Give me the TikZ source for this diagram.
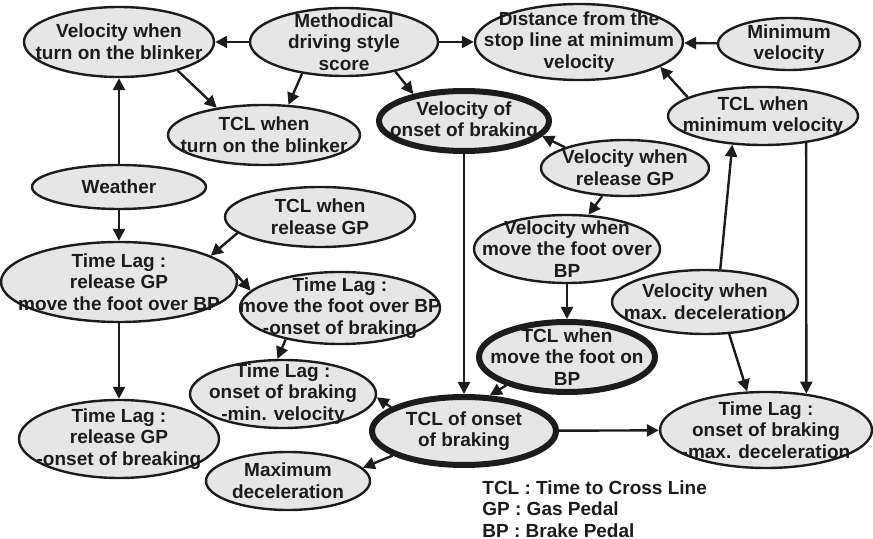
\documentclass[tikz,border=0pt]{standalone}
\usepackage{fontspec}
\setmainfont{Liberation Sans}
\usetikzlibrary{arrows.meta,shapes.geometric}
\definecolor{ink}{HTML}{1C1C1C}
\definecolor{shade}{HTML}{E6E6E6}
\tikzset{bub/.style={ellipse,draw=ink,fill=shade,line width=1.2pt,inner sep=0pt},
  heavy/.style={bub,line width=3pt},
  sz/.style 2 args={minimum width=#1*0.5pt,minimum height=#2*0.5pt},
  txt/.style={text=ink,font=\bfseries\fontsize{9.5}{10.8}\selectfont,align=center,inner sep=0pt},
  say/.style={label={[txt]center:#1}},
  link/.style={draw=ink,line width=1.2pt,-{Triangle[length=6pt,width=6pt]}}}

\begin{document}
\begin{tikzpicture}[x=0.5pt,y=-0.5pt]
\useasboundingbox (0,0) rectangle (873,539);
% top row
\node[bub,sz={190}{70},say={Velocity when\\turn on the blinker}] (vblink) at (119,42) {};
\node[bub,sz={188}{68},say={Methodical\\driving style\\score}] (score) at (344,42) {};
\node[bub,sz={208}{76},say={Distance from the\\stop line at minimum\\velocity}] (dist) at (579,42) {};
\node[bub,sz={142}{52},say={Minimum\\velocity}] (vmin) at (789,44) {};
\node[bub,sz={192}{60},say={TCL when\\turn on the blinker}] (tclblink) at (264,135) {};
\node[heavy,sz={170}{60},say={Velocity of\\onset of braking}] (vonset) at (464,121) {};
\node[bub,sz={190}{58},say={TCL when\\minimum velocity}] (tclmin) at (763,116) {};
\node[bub,sz={168}{56},say={Velocity when\\release GP}] (vrel) at (625,168) {};
% middle
\node[bub,sz={174}{44},say={Weather}] (weather) at (119,187) {};
\node[bub,sz={190}{60},say={TCL when\\release GP}] (tclrel) at (320,217) {};
\node[bub,sz={236}{80},say={Time Lag :\\release GP\\move the foot over BP}] (lag1) at (119,282) {};
\node[bub,sz={200}{72},say={Time Lag :\\move the foot over BP\\-onset of braking}] (lag2) at (340,308) {};
\node[bub,sz={186}{68},say={Velocity when\\move the foot over\\BP}] (vmove) at (567,249) {};
\node[bub,sz={186}{64},say={Velocity when\\max. deceleration}] (vmaxdec) at (705,302) {};
\node[heavy,sz={176}{70},say={TCL when\\move the foot on\\BP}] (tclmove) at (567,357) {};
% bottom
\node[bub,sz={186}{68},say={Time Lag :\\onset of braking\\-min. velocity}] (lag3) at (283,394) {};
\node[bub,sz={200}{78},say={Time Lag :\\release GP\\-onset of breaking}] (lag4) at (119,439) {};
\node[bub,sz={164}{58},say={Maximum\\deceleration}] (maxdec) at (288,481) {};
\node[heavy,sz={184}{68},say={TCL of onset\\of braking}] (tclonset) at (464,431) {};
\node[bub,sz={212}{76},say={Time Lag :\\onset of braking\\-max. deceleration}] (lag5) at (766,430) {};
\node[txt,align=left,anchor=north west] (legend) at (482,480) {TCL : Time to Cross Line\\GP : Gas Pedal\\BP : Brake Pedal};
% arrows
\draw[link] (score) -- (vblink);
\draw[link] (score) -- (dist);
\draw[link] (vmin) -- (dist);
\draw[link] (tclmin.166) -- (dist.-17);
\draw[link] (vblink.-26) -- (tclblink.150);
\draw[link] (score.217) -- (tclblink.51);
\draw[link] (score.-30) -- (vonset.152);
\draw[link] (weather) -- (vblink);
\draw[link] (weather) -- (lag1);
\draw[link] (tclrel.191) -- (lag1.16);
\draw[link] (lag1.4) -- (lag2.169);
\draw[link] (lag1) -- (lag4);
\draw[link] (lag2.-150) -- (lag3.99);
\draw[link] (vrel.161) -- (vonset.-11);
\draw[link] (vrel.231) -- (vmove.58);
\draw[link] (vmove) -- (tclmove);
\draw[link] (vonset) -- (tclonset);
\draw[link] (tclmove.205) -- (tclonset.54);
\draw[link] (tclonset.162) -- (lag3.-2);
\draw[link] (tclonset.199) -- (maxdec.10);
\draw[link] (tclonset) -- (lag5);
\draw[link] (vmaxdec.65) -- (tclmin.223);
\draw[link] (vmaxdec.-53) -- (lag5.116);
\draw[link] (tclmin.-32) -- (lag5.42);
\end{tikzpicture}
\end{document}
